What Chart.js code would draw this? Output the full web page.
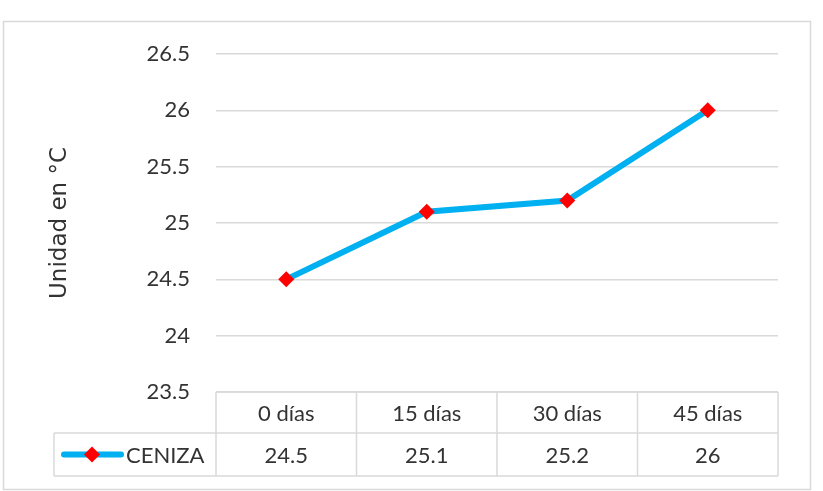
<!DOCTYPE html>
<html>
<head>
<meta charset="utf-8">
<script src="https://cdn.jsdelivr.net/npm/chart.js@4"></script>
<style>
  body { margin: 0; background: #fff; }
  #wrap { width: 823px; height: 491px; position: relative; }
</style>
</head>
<body>
<div id="wrap"><canvas id="chart"></canvas></div>
<script>
// Data
const categories = ['0 días', '15 días', '30 días', '45 días'];
const cenizaValues = [24.5, 25.1, 25.2, 26];
const seriesName = 'CENIZA';
const yTitle = 'Unidad en °C';
const yMin = 23.5;
const yMax = 26.5;
const yStep = 0.5;

const lineBlue = '#00B0F0';
const markerRed = '#FF0000';
const gridGrey = '#D9D9D9';
const textColor = '#333333';
const labelFont = '22px Lato, "Liberation Sans", sans-serif';

// Outer frame of the chart
const framePlugin = {
    id: 'frame',
    beforeDraw(chart) {
        const ctx = chart.ctx;
        ctx.save();
        ctx.strokeStyle = gridGrey;
        ctx.lineWidth = 1.5;
        ctx.strokeRect(3.5, 21.5, 807, 468);
        ctx.restore();
    }
};

// Excel style data table under the plot, columns follow the x scale
const dataTablePlugin = {
    id: 'dataTable',
    afterDraw(chart) {
        const ctx = chart.ctx;
        const x = chart.scales.x;
        const area = chart.chartArea;
        const colW = (area.right - area.left) / categories.length;
        const headTop = area.bottom;
        const rowTop = headTop + 41;
        const rowBottom = rowTop + 43;
        const legendLeft = 54;

        ctx.save();
        ctx.strokeStyle = gridGrey;
        ctx.lineWidth = 1.5;

        // horizontal lines
        ctx.beginPath();
        ctx.moveTo(area.left, headTop); ctx.lineTo(area.right, headTop);
        ctx.moveTo(legendLeft, rowTop); ctx.lineTo(area.right, rowTop);
        ctx.moveTo(legendLeft, rowBottom); ctx.lineTo(area.right, rowBottom);
        // vertical lines
        ctx.moveTo(legendLeft, rowTop); ctx.lineTo(legendLeft, rowBottom);
        for (let i = 0; i <= categories.length; i++) {
            const px = area.left + i * colW;
            ctx.moveTo(px, headTop); ctx.lineTo(px, rowBottom);
        }
        ctx.stroke();

        // text
        ctx.fillStyle = textColor;
        ctx.font = labelFont;
        ctx.textAlign = 'center';
        ctx.textBaseline = 'middle';
        categories.forEach((cat, i) => {
            const px = x.getPixelForValue(i);
            ctx.fillText(cat, px, (headTop + rowTop) / 2 + 1);
            ctx.fillText(String(cenizaValues[i]), px, (rowTop + rowBottom) / 2 + 1);
        });

        // legend key
        const midY = (rowTop + rowBottom) / 2;
        ctx.strokeStyle = lineBlue;
        ctx.lineWidth = 6;
        ctx.lineCap = 'round';
        ctx.beginPath();
        ctx.moveTo(64, midY); ctx.lineTo(121, midY);
        ctx.stroke();
        ctx.fillStyle = markerRed;
        ctx.beginPath();
        ctx.moveTo(92, midY - 8); ctx.lineTo(100, midY);
        ctx.lineTo(92, midY + 8); ctx.lineTo(84, midY);
        ctx.closePath();
        ctx.fill();
        ctx.fillStyle = textColor;
        ctx.textAlign = 'left';
        ctx.fillText(seriesName, 126, midY + 1);
        ctx.restore();
    }
};

new Chart(document.getElementById('chart').getContext('2d'), {
    type: 'line',
    data: {
        labels: categories,
        datasets: [{
            label: seriesName,
            data: cenizaValues,
            borderColor: lineBlue,
            borderWidth: 6,
            backgroundColor: markerRed,
            pointBackgroundColor: markerRed,
            pointBorderColor: markerRed,
            pointBorderWidth: 0,
            pointStyle: 'rectRot',
            pointRadius: 8,
            tension: 0,
            fill: false
        }]
    },
    options: {
        responsive: true,
        maintainAspectRatio: false,
        animation: false,
        events: [],
        layout: {
            padding: { top: 54, right: 45, bottom: 99, left: 0 }
        },
        plugins: {
            legend: { display: false },
            tooltip: { enabled: false }
        },
        scales: {
            x: {
                type: 'category',
                offset: true,
                display: false
            },
            y: {
                min: yMin,
                max: yMax,
                border: { display: false },
                grid: { color: gridGrey, lineWidth: 1.5, drawTicks: false },
                ticks: {
                    stepSize: yStep,
                    color: textColor,
                    font: { family: 'Lato, "Liberation Sans", sans-serif', size: 22 },
                    padding: 26,
                    callback: value => String(value)
                },
                title: {
                    display: true,
                    text: yTitle,
                    color: textColor,
                    font: { family: '"DejaVu Sans", sans-serif', size: 23 },
                    padding: { top: 46, bottom: 0 }
                },
                afterFit(scale) {
                    scale.width = 216;
                }
            }
        }
    },
    plugins: [framePlugin, dataTablePlugin]
});
</script>
</body>
</html>
